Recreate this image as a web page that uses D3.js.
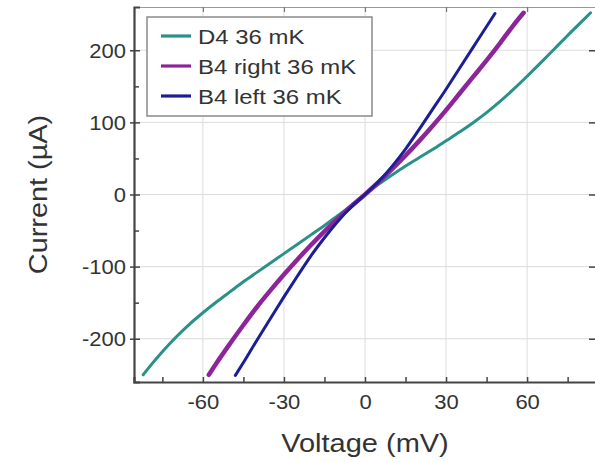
<!DOCTYPE html>
<html>
<head>
<meta charset="utf-8">
<script src="https://cdn.jsdelivr.net/npm/d3@7"></script>
<style>
  html, body { margin: 0; padding: 0; background: #fff; }
  svg { display: block; }
  text { font-family: "Liberation Sans", Arial, sans-serif; fill: #333; }
</style>
</head>
<body>
<svg id="chart" width="595" height="462"></svg>
<script>
// I–V sweeps at 36 mK: voltage (mV) and current (µA)
const d4Voltage = [-82.1, -80, -75, -70, -65, -60, -55, -50, -45, -40, -35, -30, -25, -20, -15, -10, -5, 0,
                   5, 10, 15, 20, 25, 30, 35, 40, 45, 50, 55, 60, 65, 70, 75, 80, 83.5];
const d4Current = [-250, -240, -218, -198, -180, -164, -149, -135, -121, -108, -95, -82, -69, -56, -43, -29, -15, 0,
                   14, 27, 39.5, 51, 62.5, 74.5, 86.5, 99.5, 113.5, 129, 146, 164, 182.5, 201.5, 220.5, 239, 252];

const b4RightVoltage = [-57.8, -55, -50, -45, -40, -35, -30, -25, -20, -15, -10, -5, 0,
                        5, 10, 15, 20, 25, 30, 35, 40, 45, 50, 55, 58.7];
const b4RightCurrent = [-250, -234, -207, -181, -156, -133, -111, -90, -70, -51, -33, -16, 0,
                        17, 35, 54, 74, 95, 117, 140, 163, 186, 210, 235, 252];

const b4LeftVoltage = [-48, -45, -40, -35, -30, -25, -20, -15, -10, -5, 0,
                       5, 10, 15, 20, 25, 30, 35, 40, 45, 48.1];
const b4LeftCurrent = [-251, -233, -202, -172, -142, -113, -85, -60, -37, -17, 0,
                       18, 39, 63, 90, 118, 146, 175, 204, 233, 251];

const seriesNames = ["D4 36 mK", "B4 right 36 mK", "B4 left 36 mK"];
const seriesColors = ["#2a9189", "#8e2499", "#1b1f96"];
const seriesWidths = [3, 4.5, 3];

const xMajorTicks = [-60, -30, 0, 30, 60];
const xMinorTicks = [-75, -45, -15, 15, 45, 75];
const yMajorTicks = [-200, -100, 0, 100, 200];
const yMinorTicks = [-150, -50, 50, 150];

const xDomain = [-85.5, 85.5];
const yDomain = [-260, 260];

const series = [
  { name: seriesNames[0], v: d4Voltage, i: d4Current },
  { name: seriesNames[1], v: b4RightVoltage, i: b4RightCurrent },
  { name: seriesNames[2], v: b4LeftVoltage, i: b4LeftCurrent }
].map((s, k) => ({
  name: s.name, color: seriesColors[k], width: seriesWidths[k],
  points: s.v.map((v, j) => [v, s.i[j]])
}));

const plot = { left: 134, right: 596, top: 7, bottom: 382 };
const svg = d3.select("#chart");

const x = d3.scaleLinear().domain(xDomain).range([plot.left, plot.right]);
const y = d3.scaleLinear().domain(yDomain).range([plot.bottom, plot.top]);

// glyphs in this figure run a little wider than plain Arial
const SX = 1.1;
const plainNumber = d => String(d);   // hyphen-minus, as printed on the axes

// gridlines at major ticks
const grid = svg.append("g");
grid.selectAll("line.gx").data(xMajorTicks).join("line")
  .attr("x1", d => x(d)).attr("x2", d => x(d))
  .attr("y1", plot.top).attr("y2", plot.bottom)
  .attr("stroke", "#dcdcdc").attr("stroke-width", 1);
grid.selectAll("line.gy").data(yMajorTicks).join("line")
  .attr("x1", plot.left).attr("x2", plot.right)
  .attr("y1", d => y(d)).attr("y2", d => y(d))
  .attr("stroke", "#dcdcdc").attr("stroke-width", 1);

// curves
const line = d3.line().x(d => x(d[0])).y(d => y(d[1])).curve(d3.curveMonotoneX);
const curves = svg.append("g");
series.forEach(s => {
  curves.append("path").datum(s.points)
    .attr("d", line)
    .attr("fill", "none")
    .attr("stroke", s.color)
    .attr("stroke-width", s.width)
    .attr("stroke-linecap", "round")
    .attr("stroke-linejoin", "round");
});

// top frame (light) with major ticks pointing down
const topAxis = svg.append("g").attr("transform", `translate(0,${plot.top})`)
  .call(d3.axisTop(x).tickValues(xMajorTicks).tickSize(-5).tickFormat(""));
topAxis.select(".domain").attr("stroke", "#999").attr("stroke-width", 1.2);
topAxis.selectAll(".tick line").attr("stroke", "#777").attr("stroke-width", 1.2);

// right frame with major ticks pointing left
const rightAxis = svg.append("g").attr("transform", `translate(${plot.right},0)`)
  .call(d3.axisRight(y).tickValues(yMajorTicks).tickSize(-7).tickFormat(""));
rightAxis.select(".domain").attr("stroke", "#999").attr("stroke-width", 1.2);
rightAxis.selectAll(".tick line").attr("stroke", "#444").attr("stroke-width", 1.5);

// bottom axis: minor ticks, then major ticks with labels
const bottomMinor = svg.append("g").attr("transform", `translate(0,${plot.bottom})`)
  .call(d3.axisBottom(x).tickValues(xMinorTicks).tickSize(-5).tickFormat(""));
bottomMinor.select(".domain").remove();
bottomMinor.selectAll(".tick line").attr("stroke", "#444").attr("stroke-width", 1.5);

const bottomAxis = svg.append("g").attr("transform", `translate(0,${plot.bottom})`)
  .call(d3.axisBottom(x).tickValues(xMajorTicks).tickSize(-5).tickPadding(0).tickFormat(plainNumber));
bottomAxis.select(".domain").attr("stroke", "#444").attr("stroke-width", 2.2);
bottomAxis.selectAll(".tick line").attr("stroke", "#444").attr("stroke-width", 1.5);
bottomAxis.selectAll(".tick text")
  .attr("y", null).attr("dy", null)
  .attr("transform", `translate(0,27) scale(${SX},1)`)
  .style("font-size", "20px").style("font-family", "'Liberation Sans', Arial, sans-serif")
  .attr("fill", "#333");

// left axis: minor ticks, then major ticks with labels
const leftMinor = svg.append("g").attr("transform", `translate(${plot.left},0)`)
  .call(d3.axisLeft(y).tickValues(yMinorTicks).tickSize(-5).tickFormat(""));
leftMinor.select(".domain").remove();
leftMinor.selectAll(".tick line").attr("stroke", "#444").attr("stroke-width", 1.5);

const leftAxis = svg.append("g").attr("transform", `translate(${plot.left},0)`)
  .call(d3.axisLeft(y).tickValues(yMajorTicks).tickSize(-6).tickPadding(0).tickFormat(plainNumber));
leftAxis.select(".domain").attr("stroke", "#444").attr("stroke-width", 2.2);
leftAxis.selectAll(".tick line").attr("stroke", "#444").attr("stroke-width", 1.5);
leftAxis.selectAll(".tick line").clone(true).attr("x2", -4);
leftAxis.selectAll(".tick text")
  .attr("x", null).attr("dy", null)
  .attr("transform", `translate(-8,7) scale(${SX},1)`)
  .attr("text-anchor", "end")
  .style("font-size", "20px").style("font-family", "'Liberation Sans', Arial, sans-serif")
  .attr("fill", "#333");

// axis titles
svg.append("text")
  .attr("transform", `translate(${x(0)},452) scale(1.16,1)`)
  .attr("text-anchor", "middle")
  .style("font-size", "25px")
  .text("Voltage (mV)");

svg.append("text")
  .attr("transform", `translate(47,${y(0)}) rotate(-90) scale(1.11,1)`)
  .attr("text-anchor", "middle")
  .style("font-size", "26px")
  .text("Current (\u00B5A)");

// legend
const legend = svg.append("g").attr("transform", "translate(147,17)");
legend.append("rect")
  .attr("width", 225).attr("height", 99)
  .attr("fill", "#fff").attr("stroke", "#8a8a8a").attr("stroke-width", 1.5);
const rowY = d3.scalePoint().domain(seriesNames).range([19, 79]);
series.forEach(s => {
  const g = legend.append("g").attr("transform", `translate(0,${rowY(s.name)})`);
  g.append("line").attr("x1", 14).attr("x2", 44)
    .attr("stroke", s.color).attr("stroke-width", 3.2);
  g.append("text")
    .attr("transform", `translate(51,7.5) scale(1.14,1)`)
    .style("font-size", "21px")
    .text(s.name);
});
</script>
</body>
</html>
